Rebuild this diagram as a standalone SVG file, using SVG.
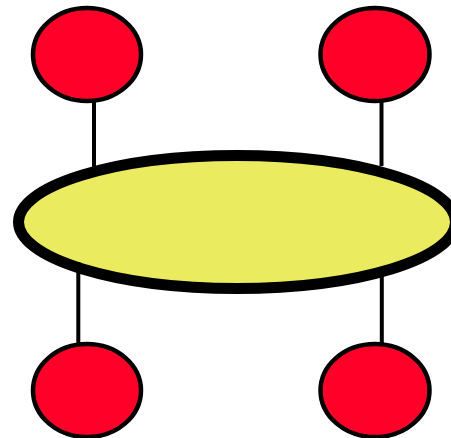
<svg xmlns="http://www.w3.org/2000/svg" width="451" height="438" viewBox="0 0 451 438">
<style>
.red{fill:#FF0029;stroke:#000;stroke-width:4.5}
.hub{fill:#EAEB5E;stroke:#000;stroke-width:11}
.edge{stroke:#000;stroke-width:4;fill:none}
</style>
<rect width="451" height="438" fill="#fff"/>
<g id="hub"><ellipse class="hub" cx="237" cy="222" rx="218.5" ry="66.5"/></g>
<g id="connectors">
<line class="edge" x1="94" y1="102" x2="94" y2="167"/>
<line class="edge" x1="381.5" y1="102" x2="381.5" y2="166"/>
<line class="edge" x1="78.3" y1="262" x2="78.3" y2="343"/>
<line class="edge" x1="381.8" y1="276" x2="381.8" y2="343"/>
</g>
<g id="n1"><ellipse class="red" cx="87" cy="54.5" rx="54" ry="46.5"/></g>
<g id="n2"><ellipse class="red" cx="375" cy="54.5" rx="54.5" ry="46.5"/></g>
<g id="n3"><ellipse class="red" cx="87" cy="390.5" rx="54" ry="46.5"/></g>
<g id="n4"><ellipse class="red" cx="375" cy="390.5" rx="54.5" ry="46.5"/></g>
</svg>
